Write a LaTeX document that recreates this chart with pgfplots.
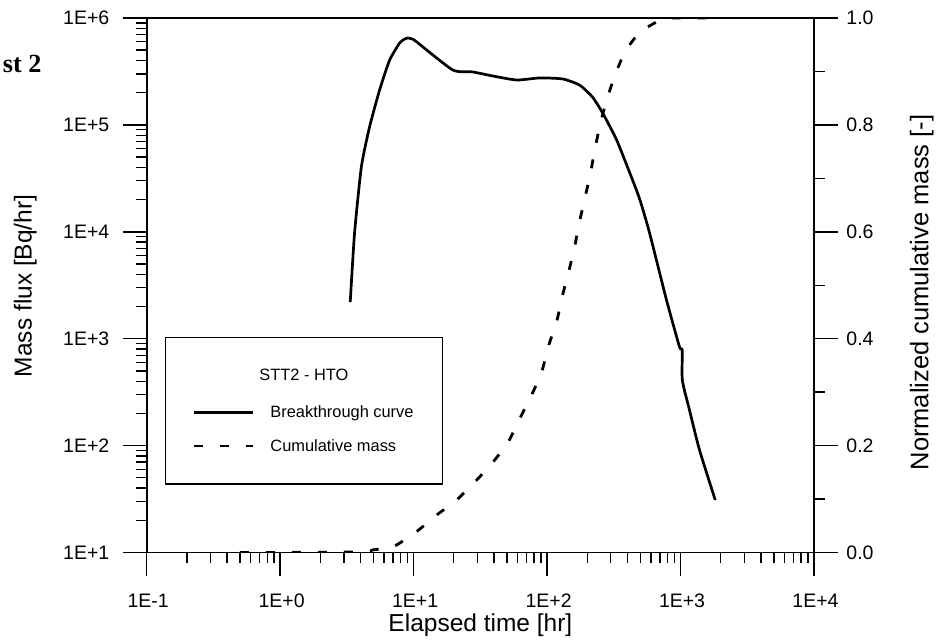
\documentclass[border=0pt]{standalone}
\usepackage{pgfplots}
\pgfplotsset{compat=1.18}
\usepackage{fontspec}
\setmainfont{Liberation Sans}
\newfontfamily\serifbold{Liberation Serif}

\pgfplotstableread{
t F
3.35 2200
3.61 9750
4.06 40600
4.68 96200
5.56 212000
6.61 404000
7.85 583000
8.47 630000
9.02 650000
9.73 637000
10.5 600000
19.6 327000
27.7 313000
39.1 287000
59.2 263000
87.9 275000
131 269000
175 236000
219 182000
261 129000
332 72300
437 30500
497 19800
586 9750
785 2300
983 836
1030 783
1031 411
1167 215
1387 91
1820 31
}\breakthrough

\pgfplotstableread{
t C
0.5 0
4.0 0.001
4.96 0.005
7.05 0.0109
10.5 0.0389
14.9 0.0702
21.0 0.0982
29.7 0.1356
39.6 0.170
51.2 0.207
62.6 0.251
76.7 0.295
91.2 0.338
102 0.385
118 0.432
129 0.476
144 0.522
160 0.569
174 0.616
192 0.663
210 0.706
229 0.756
249 0.800
280 0.847
323 0.893
384 0.937
498 0.974
702 0.996
787 1.0
1820 1.0
}\cumulative

\begin{document}
\begin{tikzpicture}[x=1pt,y=1pt]
\useasboundingbox (0,0) rectangle (944,641);
\begin{axis}[
  at={(146.7pt,88.5pt)}, anchor=south west,
  scale only axis, width=667.3pt, height=534.5pt,
  xmode=log, xmin=0.1, xmax=10000,
  tick align=outside,
  major tick length=24pt, minor tick length=11pt,
  tick style={black, line width=1.4pt},
  axis line style={line width=1.8pt},
  ticklabel style={font=\fontsize{19.5}{22}\selectfont},
  xticklabel style={yshift=-14pt, xshift=1.5pt},
  yticklabel style={xshift=-10pt},
  ymode=log, ymin=10, ymax=1e6,
  xtick pos=bottom, ytick pos=left,
  xtick={0.1,1,10,100,1000,10000},
  xticklabels={1E-1,1E+0,1E+1,1E+2,1E+3,1E+4},
  ytick={10,100,1000,10000,100000,1000000},
  yticklabels={1E+1,1E+2,1E+3,1E+4,1E+5,1E+6},
  legend style={at={(0.0274,0.4032)}, anchor=north west, draw=black,
    line width=1.5pt, fill=white, inner xsep=27pt, inner ysep=29pt,
    row sep=16.5pt, font=\fontsize{16.4}{18}\selectfont,
    cells={anchor=west},
    /tikz/every odd column/.style={column sep=14pt}},
  legend image code/.code={\draw[#1] (0pt,0pt) -- (59pt,0pt);},
]
\addlegendimage{empty legend}
\addlegendentry{\hspace*{-11pt}\raisebox{3.3pt}{STT2 - HTO}}
\addplot[black, line width=2.7pt, line join=round, smooth, tension=0.35] table[x=t,y=F] {\breakthrough};
\addlegendentry{Breakthrough curve}
\addlegendimage{black, line width=2.6pt, dash pattern=on 9pt off 17pt}
\addlegendentry{Cumulative mass}
\end{axis}
\begin{axis}[
  at={(146.7pt,88.5pt)}, anchor=south west,
  scale only axis, width=667.3pt, height=534.5pt,
  xmode=log, xmin=0.1, xmax=10000,
  tick align=outside,
  major tick length=24pt, minor tick length=11pt,
  tick style={black, line width=1.4pt},
  axis line style={line width=1.8pt},
  ticklabel style={font=\fontsize{19.5}{22}\selectfont},
  yticklabel style={xshift=5pt},
  ymin=0, ymax=1,
  axis x line=none,
  axis y line*=right,
  ytick={0,0.2,0.4,0.6,0.8,1},
  yticklabels={0.0,0.2,0.4,0.6,0.8,1.0},
  minor ytick={0.1,0.3,0.5,0.7,0.9},
]
\addplot[black, line width=2.8pt, dash pattern=on 9pt off 17pt, smooth, tension=0.35] table[x=t,y=C] {\cumulative};
\end{axis}
\node[anchor=base, font=\fontsize{24.5}{28}\selectfont] at (480.4,9.3) {Elapsed time [hr]};
\node[anchor=base, rotate=90, font=\fontsize{24.5}{28}\selectfont] at (31.7,355.1) {Mass flux [Bq/hr]};
\node[anchor=base, rotate=90, font=\fontsize{25.5}{28}\selectfont] at (928.3,348.5) {Normalized cumulative mass [-]};
\node[anchor=base east, inner sep=0pt, font=\serifbold\bfseries\fontsize{26.2}{30}\selectfont] at (41.7,568.3) {st 2};
\end{tikzpicture}
\end{document}
